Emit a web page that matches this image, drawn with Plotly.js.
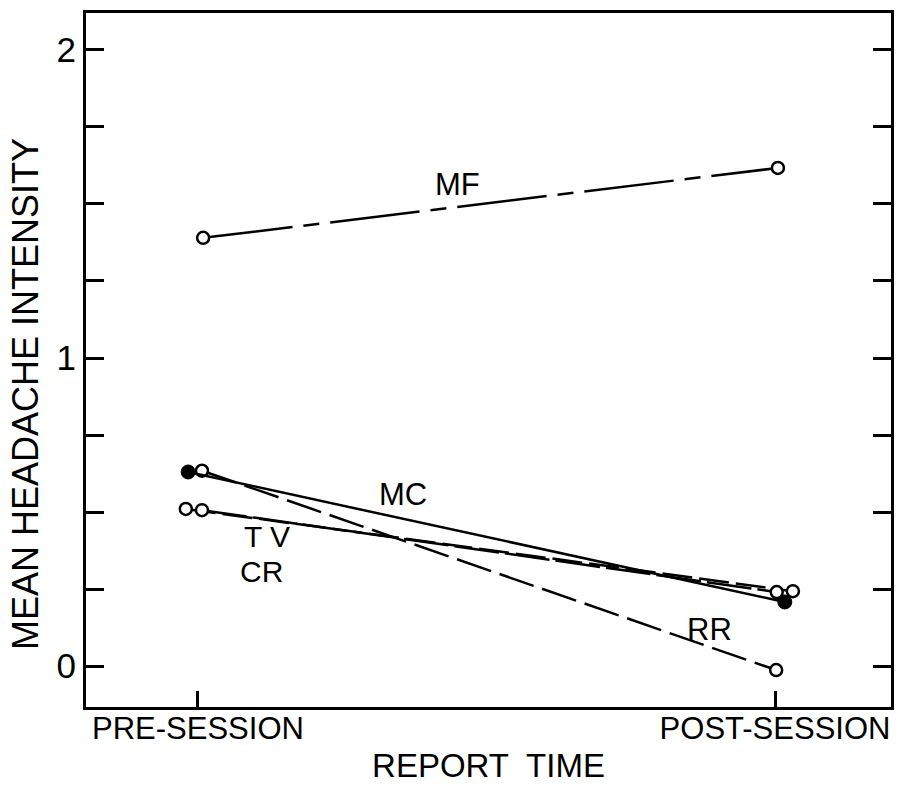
<!DOCTYPE html>
<html>
<head>
<meta charset="utf-8">
<script src="https://cdn.plot.ly/plotly-3.0.1.min.js"></script>
<style>html,body{margin:0;padding:0;background:#fff;}#chart{width:897px;height:792px;}</style>
</head>
<body>
<div id="chart"></div>
<script>
// Category positions (0 = pre-session, 1 = post-session), with the small side-by-side offsets
const categories = ["PRE-SESSION", "POST-SESSION"];
const categoryPos = [0, 1];

const seriesNames = ["MF", "MC", "RR", "TV", "CR"];

const mfX = [0.009, 1.005];
const mfY = [1.39, 1.617];

const mcX = [-0.017, 1.017];
const mcY = [0.63, 0.208];

const rrX = [0.007, 1.002];
const rrY = [0.634, -0.013];

const tvX = [-0.021, 1.031];
const tvY = [0.51, 0.243];

const crX = [0.007, 1.003];
const crY = [0.506, 0.24];

const yTickVals = [0, 0.25, 0.5, 0.75, 1, 1.25, 1.5, 1.75, 2];
const yTickText = ["0", "", "", "", "1", "", "", "", "2"];

const xTitle = "REPORT  TIME";
const yTitle = "MEAN HEADACHE INTENSITY";

const FONT = "Liberation Sans, Arial, sans-serif";
const black = "#000";

function openTrace(name, x, y, dash) {
  return {
    type: "scatter", mode: "lines+markers", name: name, x: x, y: y,
    line: {color: black, width: 2.5, dash: dash},
    marker: {symbol: "circle", size: 12, color: "#fff", line: {color: black, width: 2.5}},
    cliponaxis: false
  };
}

const traces = [
  openTrace(seriesNames[0], mfX, mfY, "90px,11px,16px,11px"),
  openTrace(seriesNames[2], rrX, rrY, "36px,9px"),
  openTrace(seriesNames[3], tvX, tvY, "30px,7px"),
  openTrace(seriesNames[4], crX, crY, "45px,6px"),
  {
    type: "scatter", mode: "lines+markers", name: seriesNames[1], x: mcX, y: mcY,
    line: {color: black, width: 2.5},
    marker: {symbol: "circle", size: 14, color: black, line: {color: black, width: 1}},
    cliponaxis: false
  }
];

const labelFont = {family: FONT, size: 31, color: black};
const smallLabelFont = {family: FONT, size: 30, color: black};
const layout = {
  width: 897, height: 792,
  margin: {l: 86, r: 6, t: 13, b: 85},
  paper_bgcolor: "#fff", plot_bgcolor: "#fff",
  showlegend: false,
  xaxis: {
    range: [-0.194, 1.201],
    tickvals: categoryPos, ticktext: categories,
    ticks: "inside", ticklen: 16, tickwidth: 3, tickcolor: black,
    showline: true, linewidth: 3, linecolor: black, mirror: true,
    showgrid: false, zeroline: false,
    ticklabeloverflow: "allow",
    ticklabelstandoff: -8,
    tickfont: {family: FONT, size: 31, color: black},
    title: {text: xTitle, font: {family: FONT, size: 33, color: black}, standoff: 9}
  },
  yaxis: {
    range: [-0.133, 2.12],
    tickvals: yTickVals, ticktext: yTickText,
    ticks: "inside", ticklen: 18, tickwidth: 3, tickcolor: black,
    showline: true, linewidth: 3, linecolor: black, mirror: "ticks",
    showgrid: false, zeroline: false,
    tickfont: {family: FONT, size: 35, color: black}
  },
  annotations: [
    {text: yTitle, textangle: -90, x: -0.0758, y: 0.451, xref: "paper", yref: "paper",
     xanchor: "center", yanchor: "middle", showarrow: false, font: {family: FONT, size: 36, color: black}},
    {text: seriesNames[0], x: 0.449, y: 1.562, xref: "x", yref: "y", showarrow: false, font: labelFont},
    {text: seriesNames[1], x: 0.355, y: 0.558, xref: "x", yref: "y", showarrow: false, font: labelFont},
    {text: "T V", x: 0.12, y: 0.419, xref: "x", yref: "y", showarrow: false, font: smallLabelFont},
    {text: seriesNames[4], x: 0.11, y: 0.308, xref: "x", yref: "y", showarrow: false, font: smallLabelFont},
    {text: seriesNames[2], x: 0.887, y: 0.117, xref: "x", yref: "y", showarrow: false, font: labelFont}
  ]
};

Plotly.newPlot("chart", traces, layout, {staticPlot: true, displayModeBar: false});
</script>
</body>
</html>
